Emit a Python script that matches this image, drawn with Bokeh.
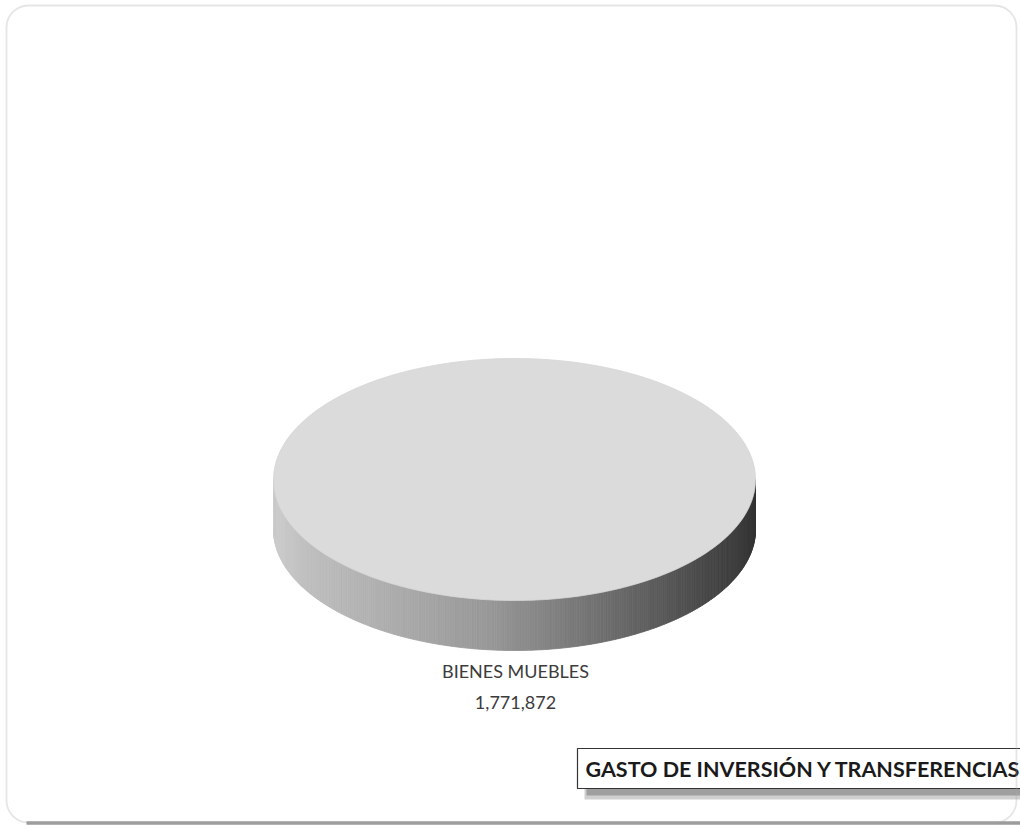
import numpy as np
from bokeh.plotting import figure
from bokeh.models import Range1d, BoxAnnotation, ColumnDataSource
from bokeh.core.properties import value
from bokeh.embed import file_html
from bokeh.resources import INLINE

# ---- data ----
categories = ["BIENES MUEBLES"]
amounts = [1771872]
title_text = "GASTO DE INVERSIÓN Y TRANSFERENCIAS"

# ---- figure in page-pixel coordinates (y down) ----
W, H = 1020, 829
p = figure(width=W, height=H, output_backend="svg", toolbar_location=None,
           x_range=Range1d(0, W), y_range=Range1d(H, 0),
           min_border=0)
p.axis.visible = False
p.grid.visible = False
p.outline_line_color = None
p.background_fill_color = "white"
p.border_fill_color = "white"

# rounded chart-area border
p.add_layout(BoxAnnotation(left=6, right=1016, top=5, bottom=822,
                           fill_color=None, line_color="#a8a8a8", line_width=1.8,
                           border_radius=22))
# darker scan shadow along the bottom edge of the border
p.line(x=[26, 1020], y=[822.5, 822.5], line_color="#8a8a8a", line_width=3.5, line_alpha=0.85)

# ---- 3D pie geometry ----
cx, cy, a, b, depth = 514, 479, 241, 121, 50
total = float(sum(amounts))
fracs = [v / total for v in amounts]
starts = np.cumsum([0] + fracs[:-1]) * 2 * np.pi
ends = np.cumsum(fracs) * 2 * np.pi


def shade(t):
    stops_t = [0.0, 0.06, 0.45, 0.75, 0.95, 1.0]
    stops_v = [205, 192, 152, 100, 62, 52]
    g = int(np.interp(t, stops_t, stops_v))
    return "#%02x%02x%02x" % (g, g, g)


for s, e in zip(starts, ends):
    # side wall: only visible front half (angles 0..pi, screen y downward)
    lo, hi = max(s, 0.0), min(e, np.pi)
    if hi > lo:
        n = 300
        th = np.linspace(lo, hi, n + 1)
        xs_list, ys_list, cols = [], [], []
        for i in range(n):
            t0, t1 = th[i], th[i + 1]
            x0, x1 = cx + a * np.cos(t0), cx + a * np.cos(t1)
            y0, y1 = cy + b * np.sin(t0), cy + b * np.sin(t1)
            xs_list.append([x0, x1, x1, x0])
            ys_list.append([y0, y1, y1 + depth, y0 + depth])
            tm = ((x0 + x1) / 2 - (cx - a)) / (2 * a)
            cols.append(shade(tm))
        src = ColumnDataSource(dict(xs=xs_list, ys=ys_list, c=cols))
        p.patches("xs", "ys", source=src, fill_color="c", line_color="c", line_width=0.8)

    # top face
    th = np.linspace(s, e, 241)
    xs = list(cx + a * np.cos(th))
    ys = list(cy + b * np.sin(th))
    if e - s < 2 * np.pi - 1e-9:
        xs = [cx] + xs
        ys = [cy] + ys
    p.patch(xs, ys, fill_color="#dbdbdb", line_color="#d6d6d6", line_width=0.8)

# ---- data label ----
labels = [f"{c}\n{v:,}" for c, v in zip(categories, amounts)]
p.text(x=[cx + 1], y=[cy + b + depth + 9], text=labels, text_align="center",
       text_baseline="top", text_font=value("Lato"), text_font_size="18px",
       text_color="#3c3c3c", text_line_height=1.45)

# ---- title box with shadow ----
p.quad(left=[584], right=[1030], top=[787], bottom=[799], fill_color="#a0a0a0",
       fill_alpha=0.5, line_color=None)
p.quad(left=[586], right=[1030], top=[784], bottom=[795], fill_color="#707070",
       fill_alpha=0.5, line_color=None)
p.quad(left=[577], right=[1030], top=[748], bottom=[788], fill_color="white",
       line_color="#333333", line_width=1.2)
p.text(x=[585], y=[768], text=[title_text], text_align="left", text_baseline="middle",
       text_font=value("Lato"), text_font_style="bold", text_font_size="21.5px",
       text_color="#1a1a1a")

open("out.html", "w").write(file_html(p, INLINE))
